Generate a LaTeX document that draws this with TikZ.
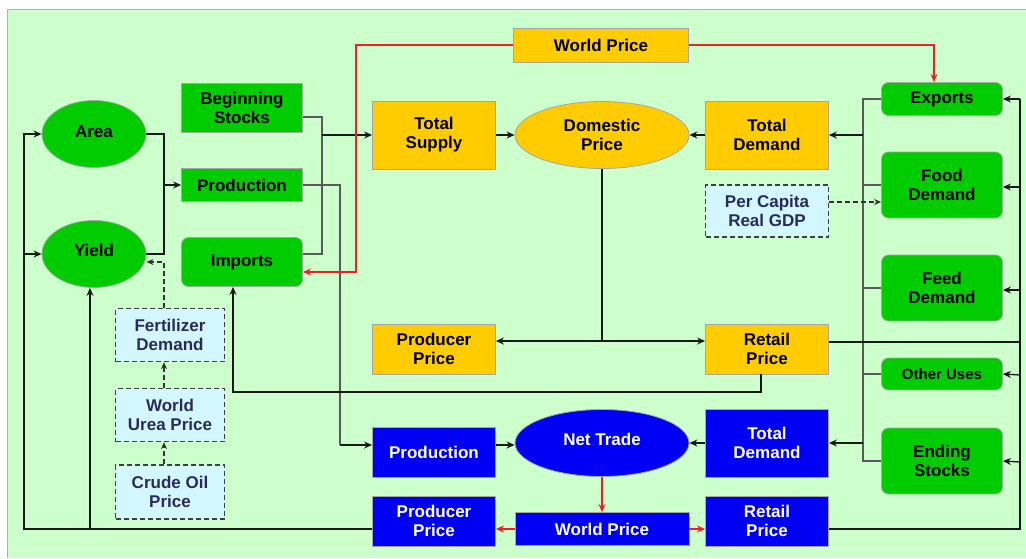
\documentclass[tikz,border=0pt]{standalone}
\usepackage{fontspec}
\setmainfont{Liberation Sans}
\usetikzlibrary{shapes.geometric,arrows.meta}
\definecolor{bggreen}{HTML}{CCFFCC}
\definecolor{boxgreen}{HTML}{00CC00}
\definecolor{boxorange}{HTML}{FFCC00}
\definecolor{boxblue}{HTML}{0000F5}
\definecolor{boxlight}{HTML}{D2F7FF}
\definecolor{navytext}{HTML}{2A2A5A}
\definecolor{redline}{HTML}{F02020}
\tikzset{
  base/.style={draw=black!35, line width=0.8pt, inner sep=0pt, align=center,
    font=\bfseries\fontsize{17}{19}\selectfont},
  gbox/.style={base, fill=boxgreen, minimum width=121pt},
  gbr/.style={gbox, rounded corners=7pt},
  obox/.style={base, fill=boxorange, minimum width=123pt},
  bbox/.style={base, fill=boxblue, text=white, minimum width=123pt},
  lbox/.style={base, fill=boxlight, draw=black!75, dash pattern=on 5pt off 3pt, line width=1.3pt, text=navytext, minimum width=109pt},
  ell/.style={base, ellipse, minimum width=104pt, minimum height=67pt},
  conn/.style={draw=black!90, line width=1.3pt},
  gconn/.style={draw=black!65, line width=2pt},
  arr/.style={conn, -{Stealth[length=8pt,width=7pt]}},
  darr/.style={draw=black!80, line width=1.3pt, dash pattern=on 5pt off 3pt, -{Stealth[length=7pt,width=6pt]}},
  redarr/.style={draw=redline, line width=2pt, -{Stealth[length=8pt,width=7pt]}}
}
\begin{document}
\begin{tikzpicture}[x=1pt,y=-1pt]
\useasboundingbox (0,0) rectangle (1026,558);
\fill[white] (0,0) rectangle (1026,558);
\fill[bggreen] (7,9) rectangle (1026,558);
\draw[black!30, line width=1pt] (7,558) -- (7,9) -- (1026,9);

% left nodes
\node[ell, fill=boxgreen] (area) at (94,134) {\raisebox{5pt}{Area}};
\node[ell, fill=boxgreen] (yield) at (94,254) {\raisebox{7pt}{Yield}};
\node[gbox, minimum height=49pt] (bstocks) at (242,108) {Beginning\\Stocks};
\node[gbox, minimum height=33pt] (prodg) at (242,185) {Production};
\node[gbr, minimum height=49pt] (imports) at (242,262) {Imports};
\node[lbox, minimum height=53pt] (fert) at (170,335) {Fertilizer\\Demand};
\node[lbox, minimum height=53pt] (urea) at (170,415) {World\\Urea Price};
\node[lbox, minimum height=54pt] (crude) at (170,492) {Crude Oil\\Price};

% orange row
\node[obox, minimum width=175pt, minimum height=34pt] (wptop) at (601,45) {World Price};
\node[obox, minimum height=68pt] (tsupply) at (434,135) {Total\\Supply};
\node[ell, fill=boxorange, minimum width=174pt] (dprice) at (602,135) {Domestic\\Price};
\node[obox, minimum height=68pt] (tdemo) at (767,135) {Total\\Demand};
\node[lbox, minimum width=123pt, minimum height=52pt] (gdp) at (767,211) {Per Capita\\Real GDP};
\node[obox, minimum height=50pt] (prodpo) at (434,349) {Producer\\Price};
\node[obox, minimum height=50pt] (retailo) at (767,349) {Retail\\Price};

% right green column
\node[gbr, minimum height=33pt] (exports) at (942,99) {Exports};
\node[gbr, minimum height=66pt] (food) at (942,185) {Food\\Demand};
\node[gbr, minimum height=66pt] (feed) at (942,288) {Feed\\Demand};
\node[gbr, minimum height=32pt, font=\bfseries\fontsize{15}{17}\selectfont] (other) at (942,374) {Other Uses};
\node[gbr, minimum height=66pt] (ending) at (942,461) {Ending\\Stocks};

% blue row
\node[bbox, minimum height=50pt] (prodb) at (434,452) {Production};
\node[ell, fill=boxblue, text=white, minimum width=174pt] (net) at (602,443) {\raisebox{7pt}{Net Trade}};
\node[bbox, minimum height=68pt] (tdemb) at (767,443) {Total\\Demand};
\node[bbox, minimum height=50pt] (prodpb) at (434,521) {Producer\\Price};
\node[bbox, minimum width=174pt, minimum height=33pt] (wpb) at (602,529) {World Price};
\node[bbox, minimum height=50pt] (retailb) at (767,521) {Retail\\Price};

% left loop
\draw[arr] ([yshift=-8pt]prodpb.west) -| (24,134) -- (area.west);
\draw[arr] (24,254) -- (yield.west);
\coordinate (v1) at (90,529);
\draw[arr] (v1) -- (v1 |- yield.south);
\draw[conn] (area.east) -- (164,134) -- (164,254) -- (yield.east);
\draw[arr] (164,185) -- (prodg.west);

% fertilizer chain
\draw[darr] ([xshift=-6pt]fert.north) |- ([yshift=-8pt]yield.east);
\draw[darr] ([xshift=-6pt]urea.north) -- ([xshift=-6pt]fert.south);
\draw[darr] ([xshift=-6pt]crude.north) -- ([xshift=-6pt]urea.south);

% supply side
\draw[gconn] ([yshift=-9pt]bstocks.east) -- (322,117) -- (322,254) -- ([yshift=8pt]imports.east);
\draw[arr] (322,135) -- (tsupply.west);
\draw[gconn] (prodg.east) -- (340,185) -- (340,445);
\draw[arr] (340,445) -- ([yshift=7pt]prodb.west);
\draw[arr] ([xshift=-6pt]retailo.south) -- (761,392) -- (233,392) -- ([xshift=-9pt]imports.south);

% red world price lines
\draw[redarr] (wptop.west) -- (356,45) -- (356,272) -- ([yshift=-10pt]imports.east);
\draw[redarr] (wptop.east) -| ([xshift=-8pt]exports.north);

% domestic market
\draw[arr] (tsupply.east) -- (dprice.west);
\draw[arr] (tdemo.west) -- (dprice.east);
\draw[conn] (dprice.south) -- (602,341);
\draw[arr] (602,341) -- ([yshift=8pt]prodpo.east);
\draw[arr] (602,341) -- ([yshift=8pt]retailo.west);

% demand column
\draw[gconn] (exports.west) -- (863,99) -- (863,461) -- (ending.west);
\draw[gconn] (food.west) -- (863,185);
\draw[gconn] (feed.west) -- (863,288);
\draw[gconn] (other.west) -- (863,374);
\draw[arr] (863,135) -- (tdemo.east);
\draw[arr] (863,443) -- (tdemb.east);
\draw[darr] ([yshift=9pt]gdp.east) -- ([yshift=9pt]gdp.east -| food.west);

% right price column
\draw[conn] ([yshift=-8pt]retailb.east) -- (1020,529) -- (1020,99);
\draw[arr] (1020,99) -- (exports.east);
\draw[arr] (1020,187) -- ([yshift=-2pt]food.east);
\draw[arr] (1020,290) -- ([yshift=-2pt]feed.east);
\draw[arr] (1020,375) -- (other.east);
\draw[arr] (1020,462) -- (ending.east);
\draw[conn] ([yshift=7pt]retailo.east) -- (1020,342);

% net trade
\draw[arr] ([yshift=7pt]prodb.east) -- ([yshift=7pt]prodb.east -| net.west);
\draw[arr] (tdemb.west) -- (net.east);
\draw[redarr] (net.south) -- (wpb.north);
\draw[redarr] (wpb.west) -- (wpb.west -| prodpb.east);
\draw[redarr] (wpb.east) -- (wpb.east -| retailb.west);
\end{tikzpicture}
\end{document}
